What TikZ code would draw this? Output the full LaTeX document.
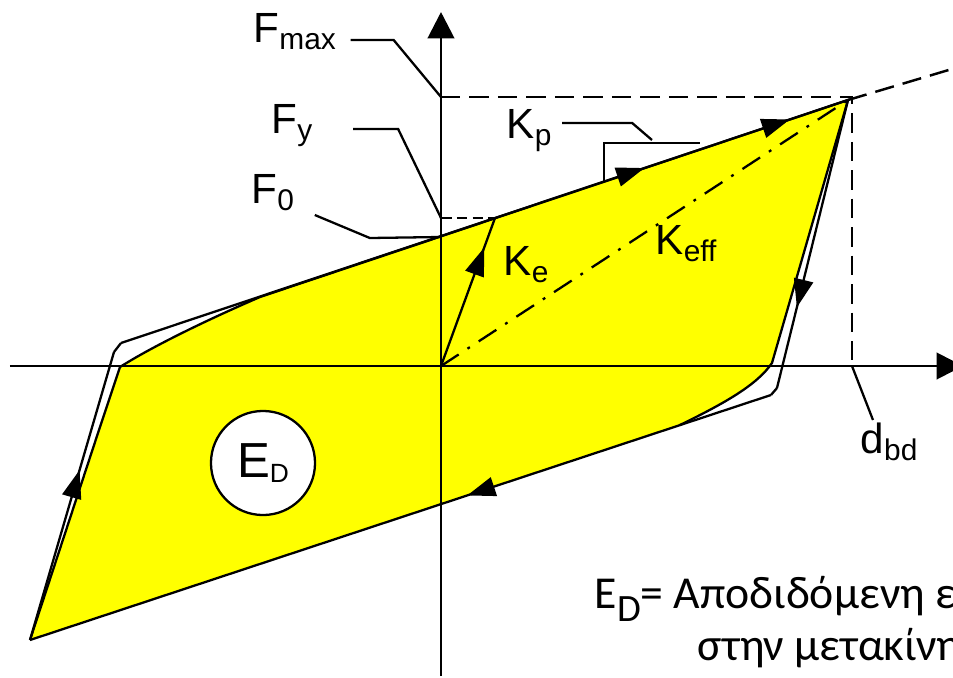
\documentclass[tikz,border=0pt]{standalone}
\usepackage{fontspec}
\setmainfont{Liberation Sans}
\newfontfamily\grfont{Carlito}
\usetikzlibrary{arrows.meta,decorations.markings,positioning}
\definecolor{loopfill}{HTML}{FFFF00}
\newcommand{\lbl}[2]{{\fontsize{12}{14}\selectfont #1}\raisebox{-2pt}{\fontsize{8.5}{10}\selectfont #2}}
\tikzset{
 axisline/.style={line width=.85pt},
 thinline/.style={line width=.65pt},
 dashline/.style={line width=.7pt,dash pattern=on 5.5pt off 2.6pt},
 dashdotline/.style={line width=.65pt,dash pattern=on 6pt off 3pt on .8pt off 3pt},
 loopdir/.style={postaction={decorate,decoration={markings,mark=at position #1 with {\arrow{Triangle[length=8pt,width=5.5pt]}}}}},
 lbltext/.style={inner sep=0pt,anchor=base west}
}
\begin{document}
\begin{tikzpicture}[x=.01cm,y=-.01cm]
\useasboundingbox (0,0) rectangle (953,678);
% points of the loop
\coordinate (O) at (441,366);\coordinate (A) at (30,640);
\coordinate (B) at (114,352);\coordinate (B2) at (121,343);
\coordinate (C) at (848,100);
\coordinate (D) at (777,388);\coordinate (D2) at (771,395);
\coordinate (Y) at (495,218);
% yellow hysteresis loop
\fill[loopfill] (A)--(98,433)--(120,367) .. controls (150,348) and (200,323) .. (260,297)--(C)--(772,363) .. controls (757,385) and (725,403) .. (680,425)--cycle;
\draw[thinline] (A)--(98,433)--(120,367) .. controls (150,348) and (200,323) .. (260,297)--(C)--(772,363) .. controls (757,385) and (725,403) .. (680,425);
\draw[dashdotline] (O)--(C);
% axes
\draw[axisline,-{Triangle[length=7.5pt,width=7.5pt]}] (441,676)--(441,12);
\draw[axisline,-{Triangle[length=7.5pt,width=7.5pt]}] (10,366)--(963,366);
% bilinear model
\draw[thinline,loopdir=.59] (A)--(B);
\draw[thinline] (B)--(B2);
\draw[thinline,loopdir=.72,loopdir=.92] (B2)--(C);
\draw[thinline,loopdir=.72] (C)--(D);
\draw[thinline] (D)--(D2);
\draw[thinline,loopdir=.41] (D2)--(A);
\draw[thinline,loopdir=.8] (O)--(Y);
\draw[dashline] (C)--(952,69);
\draw[dashline] (441,97) coordinate (Fm)--(852,97) coordinate (Pk)--(852,366) coordinate (Db);
\draw[dashline,dash pattern=on 3pt off 1.5pt] (441,218) coordinate (Fy)--(Y);
\coordinate (F0) at (441,237);
\draw[thinline] (604,181)|-(700,143) coordinate (Kpe);
% labels with leaders
\node[lbltext] (fmax) at (253,42) {\lbl{F}{max}};
\node[lbltext] (fy) at (271,133) {\lbl{F}{y}};
\node[lbltext] (fo) at (251,203) {\lbl{F}{0}};
\node[lbltext] (kp) at (506,138) {\lbl{K}{p}};
\node[lbltext] (dbd) at (860,453) {\lbl{d}{bd}};
\draw[thinline] (fmax.base east) ++(14,-2)--++(43,0)--(Fm);
\draw[thinline] (fy.base east) ++(40,-4)--++(45,0)--(Fy);
\draw[thinline] (fo.base east) ++(20,12)--++(55,23)--(F0);
\draw[thinline] (kp.base east) ++(10,-15)--++(70,0)--(652,140);
\draw[thinline] (Db)--(873,420);
\foreach \n/\k/\s/\px/\py in {ke/K/e/503/275,keff/K/eff/655/254}
 \node[lbltext] (\n) at (\px,\py) {\lbl{\k}{\s}};
\node[circle,draw,thinline,fill=white,minimum size=1.04cm,inner sep=0pt] (ed) at (263,463)
 {\fontsize{14}{16}\selectfont E\raisebox{-1.5pt}{\fontsize{7.5}{9}\selectfont D}};
% caption, cut by the right edge as in the source
\node[lbltext,font=\grfont\fontsize{13}{15}\selectfont] (capa) at (594,608) {E\raisebox{-.3em}{\fontsize{11}{13}\selectfont D}= Αποδιδόμενη ενέργεια};
\node[lbltext,font=\grfont\fontsize{13}{15}\selectfont] (capb) at (697,660) {στην μετακίνηση};
\end{tikzpicture}
\end{document}
